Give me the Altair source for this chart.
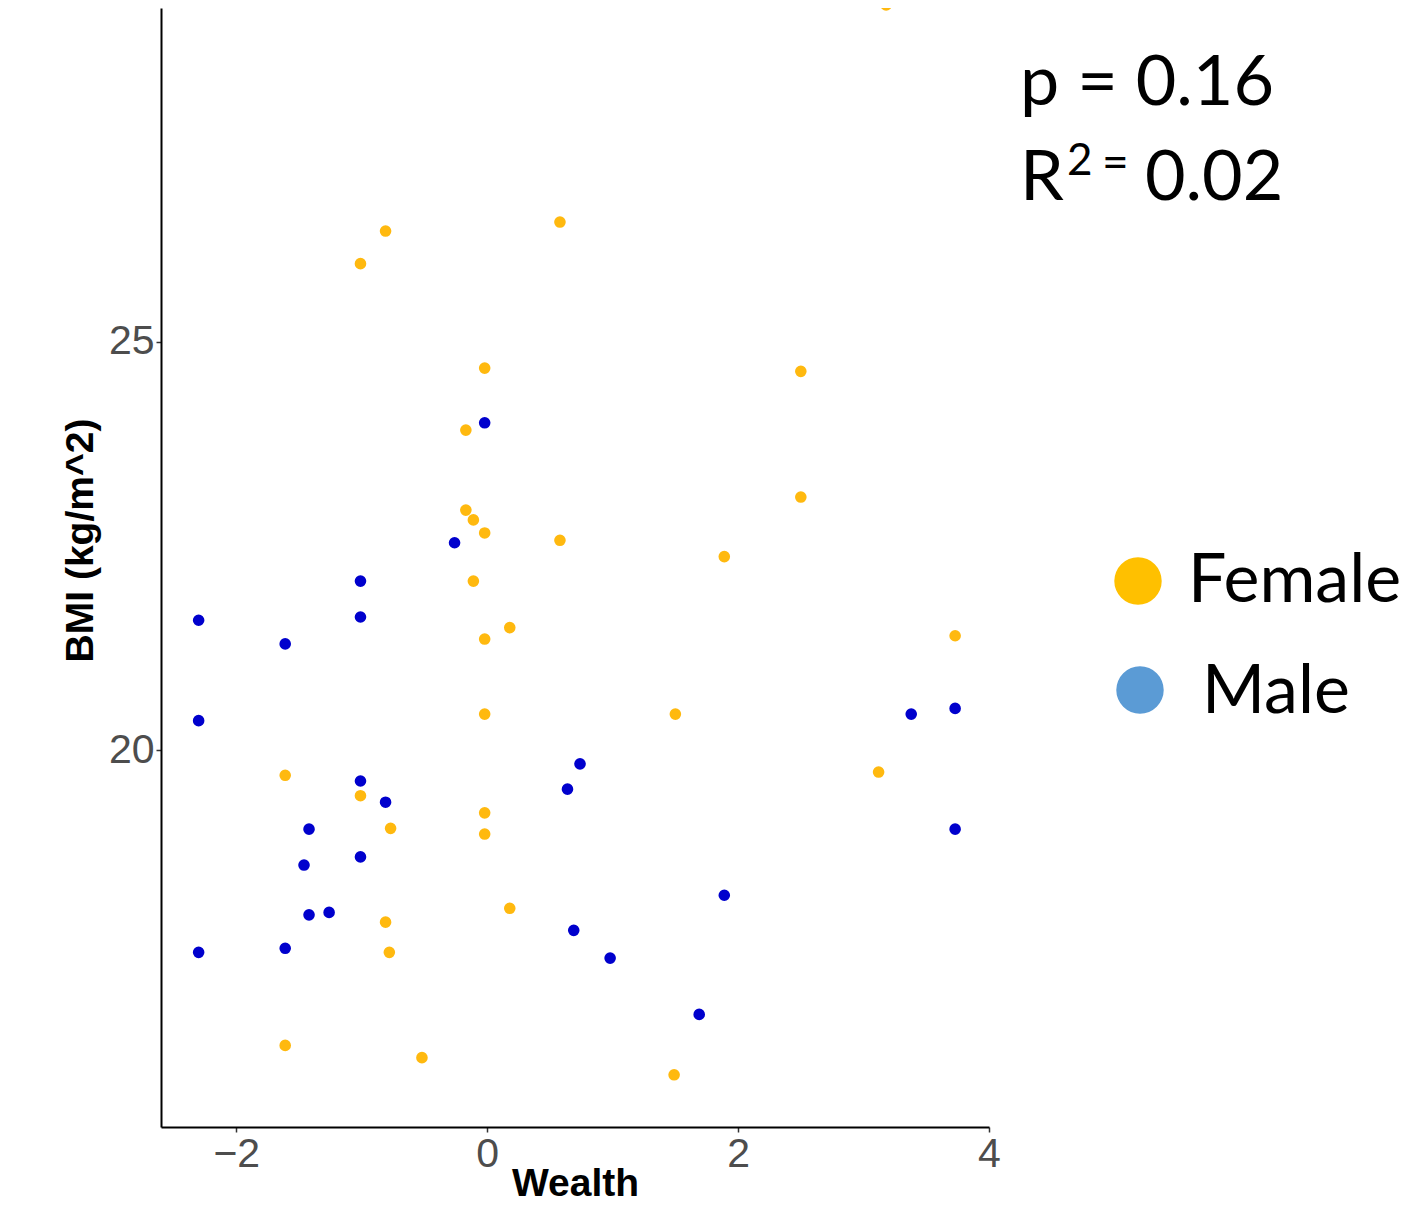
import altair as alt
import pandas as pd

female_wealth = [3.18, -0.81, -1.01, 0.58, -0.02, 2.50, -0.17, 2.50, -0.17, -0.11, -0.02, 0.58,
                 1.89, -0.11, 0.18, -0.02, 3.73, -0.02, 1.50, -1.61, 3.12, -1.01, -0.02, -0.77,
                 -0.02, -0.81, 0.18, -0.78, -1.61, -0.52, 1.49]
female_bmi = [29.13, 26.36, 25.96, 26.47, 24.68, 24.64, 23.92, 23.10, 22.94, 22.82, 22.66, 22.57,
              22.37, 22.07, 21.50, 21.36, 21.40, 20.44, 20.44, 19.69, 19.73, 19.44, 19.23, 19.04,
              18.97, 17.89, 18.06, 17.52, 16.38, 16.23, 16.02]
male_wealth = [-0.02, -0.26, -1.01, -2.30, -1.01, -1.61, -2.30, 3.38, 3.73, -1.01, 0.74, 0.64,
               -0.81, -1.42, 3.73, -1.46, -1.01, 1.89, -1.42, -1.26, -2.30, -1.61, 0.69, 0.98, 1.69]
male_bmi = [24.01, 22.54, 22.07, 21.59, 21.63, 21.30, 20.36, 20.44, 20.51, 19.62, 19.83, 19.52,
            19.36, 19.03, 19.03, 18.59, 18.69, 18.22, 17.98, 18.01, 17.52, 17.57, 17.79, 17.45, 16.76]

sexes = ["Female", "Male"]
point_colors = ["#FFB90F", "#0000CD"]
legend_colors = ["#FFC000", "#5B9BD5"]
x_ticks = [-2, 0, 2, 4]
y_ticks = [20, 25]

df = pd.concat([
    pd.DataFrame({"Wealth": female_wealth, "BMI": female_bmi, "Sex": "Female"}),
    pd.DataFrame({"Wealth": male_wealth, "BMI": male_bmi, "Sex": "Male"}),
], ignore_index=True)

points = alt.Chart(df).mark_circle(size=135, opacity=1).encode(
    x=alt.X("Wealth:Q",
            scale=alt.Scale(domain=[-2.6, 4.0], nice=False, zero=False),
            axis=alt.Axis(values=x_ticks, title="Wealth", grid=False, labelFlush=False,
                          titleY=68, titleBaseline="alphabetic", titleAlign="center")),
    y=alt.Y("BMI:Q",
            scale=alt.Scale(domain=[15.38, 29.093], nice=False, zero=False),
            axis=alt.Axis(values=y_ticks, title="BMI (kg/m^2)", grid=False, labelFlush=False,
                          titleX=-69, titleY=532, titleAngle=270,
                          titleBaseline="alphabetic", titleAlign="center")),
    color=alt.Color("Sex:N", scale=alt.Scale(domain=sexes, range=point_colors), legend=None),
)


def txt(s, x, y, size, font="Lato", baseline="alphabetic"):
    return alt.Chart(pd.DataFrame({"t": [s]})).mark_text(
        align="left", baseline=baseline, font=font, fontSize=size, color="black"
    ).encode(x=alt.value(x), y=alt.value(y), text="t:N")


def dot(color, x, y):
    return alt.Chart(pd.DataFrame({"c": [color]})).mark_circle(
        size=2250, opacity=1, color=color
    ).encode(x=alt.value(x), y=alt.value(y))


annot = [
    txt("p = 0.16", 859, 97, 70),
    txt("R", 859, 192, 70),
    txt("2", 906, 167, 44),
    txt("=", 941, 170, 46),
    txt("0.02", 984, 192, 70),
    dot(legend_colors[0], 977, 573),
    dot(legend_colors[1], 979, 682),
    txt(sexes[0], 1027, 594, 68),
    txt(sexes[1], 1041, 705, 68),
]

chart = alt.layer(points, *annot).properties(
    width=828, height=1119,
    autosize=alt.AutoSizeParams(type="none"),
    padding={"left": 153, "top": 0, "right": 417, "bottom": 71},
).configure_view(stroke=None).configure_axis(
    domainColor="black", domainWidth=2,
    tickColor="#333333", tickWidth=1.5, tickSize=5,
    labelColor="#4D4D4D", labelFont="Liberation Sans", labelFontSize=41, labelPadding=2,
    titleColor="black", titleFont="Liberation Sans", titleFontSize=39, titleFontWeight="bold",
)

chart.save("out.html", embed_options={"renderer": "svg", "actions": False})
